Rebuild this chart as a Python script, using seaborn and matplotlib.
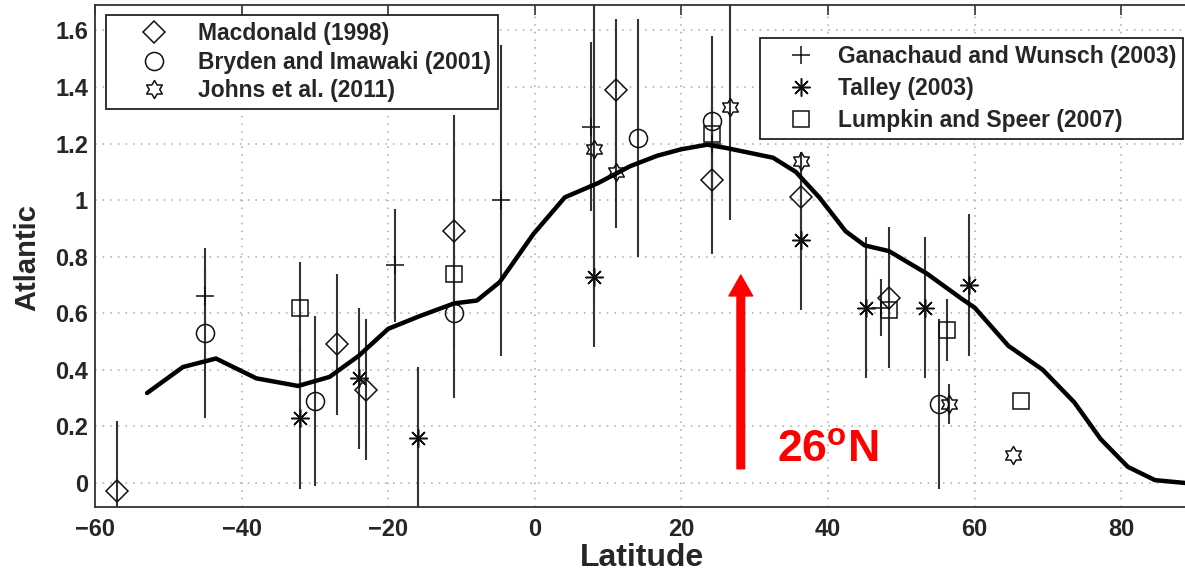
import numpy as np
import pandas as pd
import seaborn as sns
import matplotlib.pyplot as plt
from matplotlib.lines import Line2D
from matplotlib.path import Path

# smooth model curve (Atlantic overturning vs latitude)
curve_lat = [-52.9, -48, -43.5, -38, -32.3, -28, -24, -20, -15.7, -11, -7.9, -4.8, -0.2, 4.1, 8.6,
             13, 16.7, 20, 23.5, 26, 28.8, 32.5, 35.6, 38.8, 42.4, 45, 48.3, 53.5, 58.3, 60,
             64.6, 69.3, 73.6, 77.2, 80.9, 84.6, 88.7]
curve_val = [0.318, 0.41, 0.44, 0.37, 0.343, 0.375, 0.45, 0.545, 0.59, 0.635, 0.645, 0.71, 0.88, 1.01, 1.06,
             1.12, 1.157, 1.18, 1.196, 1.185, 1.17, 1.15, 1.10, 1.01, 0.89, 0.84, 0.82, 0.74, 0.65, 0.62,
             0.485, 0.40, 0.285, 0.155, 0.057, 0.01, 0.0]

# observations: latitude, value, error half-width
macdonald_lat = [-57, -27, -23, -11, 11.1, 24.2, 36.3, 48.3]
macdonald_val = [-0.03, 0.49, 0.33, 0.89, 1.39, 1.07, 1.01, 0.655]
macdonald_err = [0.25, 0.25, 0.25, 0.41, 0.25, 0.26, 0.16, 0.25]

bryden_lat = [-45, -30, -11, 14.1, 24.2, 55.1]
bryden_val = [0.53, 0.29, 0.60, 1.22, 1.28, 0.28]
bryden_err = [0.30, 0.30, 0.30, 0.42, 0.30, 0.30]

johns_lat = [8.1, 11.1, 26.6, 36.3, 56.5, 65.2]
johns_val = [1.18, 1.10, 1.33, 1.14, 0.28, 0.10]
johns_err = [0.55, 0.20, 0.40, 0.0, 0.07, 0.0]

ganachaud_lat = [-45, -19.1, -4.6, 7.7, 24.2, 47.2]
ganachaud_val = [0.66, 0.77, 1.0, 1.26, 1.20, 0.62]
ganachaud_err = [0.10, 0.20, 0.55, 0.30, 0.20, 0.10]

talley_lat = [-32, -24, -16, 8.1, 36.3, 45.2, 53.2, 59.3]
talley_val = [0.23, 0.37, 0.16, 0.73, 0.86, 0.62, 0.62, 0.70]
talley_err = [0.25, 0.25, 0.25, 0.25, 0.25, 0.25, 0.25, 0.25]

lumpkin_lat = [-32, -11, 24.2, 48.3, 56.2, 66.3]
lumpkin_val = [0.62, 0.74, 1.235, 0.61, 0.54, 0.29]
lumpkin_err = [0.16, 0.0, 0.0, 0.0, 0.11, 0.0]

xticks = [-60, -40, -20, 0, 20, 40, 60, 80]
xtick_labels = ['\u221260', '\u221240', '\u221220', '0', '20', '40', '60', '80']
yticks = [0, 0.2, 0.4, 0.6, 0.8, 1.0, 1.2, 1.4, 1.6]
ytick_labels = ['0', '0.2', '0.4', '0.6', '0.8', '1', '1.2', '1.4', '1.6']

sns.set_style("white")
plt.rcParams['font.family'] = ['Liberation Sans', 'DejaVu Sans']
plt.rcParams['mathtext.fontset'] = 'custom'
plt.rcParams['mathtext.bf'] = 'Liberation Sans:bold'
plt.rcParams['mathtext.rm'] = 'Liberation Sans'

fig = plt.figure(figsize=(11.85, 5.74), dpi=100)
ax = fig.add_axes([95/1185, 67/574, 1090/1185, 502/574])

hexagram = Path.unit_regular_star(6, innerCircle=0.57735)
asterisk = (8, 2, 0)

series = [
    (macdonald_lat, macdonald_val, macdonald_err, 'D', 11.5, 'Macdonald (1998)'),
    (bryden_lat, bryden_val, bryden_err, 'o', 13, 'Bryden and Imawaki (2001)'),
    (johns_lat, johns_val, johns_err, hexagram, 13, 'Johns et al. (2011)'),
    (ganachaud_lat, ganachaud_val, ganachaud_err, '+', 13, 'Ganachaud and Wunsch (2003)'),
    (talley_lat, talley_val, talley_err, asterisk, 13, 'Talley (2003)'),
    (lumpkin_lat, lumpkin_val, lumpkin_err, 's', 12, 'Lumpkin and Speer (2007)'),
]

handles = []
for lat, val, err, mk, ms, label in series:
    ax.errorbar(lat, val, yerr=err, fmt='none', ecolor='#333333', elinewidth=1.5, capsize=0, zorder=2)
    ax.plot(lat, val, linestyle='none', marker=mk, markersize=ms, markerfacecolor='none',
            markeredgecolor='#111111', markeredgewidth=1.1, zorder=3)
    handles.append(Line2D([], [], linestyle='none', marker=mk, markersize=ms, markerfacecolor='none',
                          markeredgecolor='#111111', markeredgewidth=1.1, label=label))

curve = pd.DataFrame({'lat': curve_lat, 'val': curve_val})
sns.lineplot(data=curve, x='lat', y='val', color='black', linewidth=3.2, ax=ax, zorder=4)

ax.set_xlim(-60, 88.7)
ax.set_ylim(-0.085, 1.69)
ax.set_xticks(xticks)
ax.set_xticklabels(xtick_labels)
ax.set_yticks(yticks)
ax.set_yticklabels(ytick_labels)
ax.tick_params(axis='both', direction='in', length=7, width=1.2, color='#333333',
               labelsize=17, top=True, right=False)
ax.tick_params(axis='x', pad=8)
ax.tick_params(axis='y', pad=5)
for lab in ax.get_xticklabels() + ax.get_yticklabels():
    lab.set_fontweight('bold')
ax.grid(True, linestyle=(0, (1, 4)), color='#a8a8a8', linewidth=1.1)
ax.set_axisbelow(True)
for side in ['left', 'bottom', 'top']:
    ax.spines[side].set_color('#333333')
    ax.spines[side].set_linewidth(1.3)
ax.spines['right'].set_visible(False)

ax.set_xlabel('Latitude', fontsize=23, fontweight='bold')
ax.set_ylabel('Atlantic', fontsize=21, fontweight='bold')
ax.xaxis.set_label_coords(0.502, -0.072)
ax.yaxis.set_label_coords(-0.049, 0.496)

leg_kw = dict(loc='upper left', bbox_transform=fig.transFigure, borderaxespad=0, fancybox=False,
              framealpha=1, edgecolor='#222222', prop={'size': 16.5, 'weight': 'bold'},
              borderpad=0.3)
leg1 = ax.legend(handles=handles[:3], bbox_to_anchor=(106/1185, 1 - 15/574),
                 handlelength=3.6, handletextpad=0.1, labelspacing=0.25, **leg_kw)
leg1.get_frame().set_linewidth(1.3)
ax.add_artist(leg1)
leg2 = ax.legend(handles=handles[3:], bbox_to_anchor=(760/1185, 1 - 38/574),
                 handlelength=3.0, handletextpad=0.1, labelspacing=0.4, **leg_kw)
leg2.get_frame().set_linewidth(1.3)

# red arrow marking 26N
ax.annotate('', xy=(28.1, 0.735), xytext=(28.1, 0.05),
            arrowprops=dict(facecolor='red', edgecolor='red', width=5.5, headwidth=17,
                            headlength=15, shrink=0), zorder=5)
ax.text(33.0, 0.074, r'26$^{\mathbf{o}}$N', color='red', fontsize=32, fontweight='bold',
        ha='left', va='baseline', zorder=5)

fig.savefig('out.png', dpi=100)
